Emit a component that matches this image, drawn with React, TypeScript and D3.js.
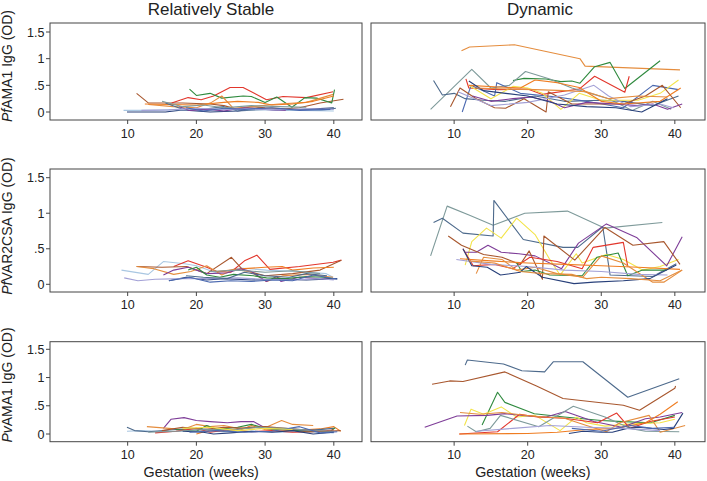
import React from "react";
import * as d3 from "d3";

type Pt = [number, number];

// ---------- palette ----------
const palette: Record<string, string> = {
  orange: "#e58d3e",
  darkOrange: "#ef7d22",
  red: "#e2362c",
  green: "#2f8a3e",
  slate: "#4d6a8c",
  navy: "#28407a",
  blue: "#4b69b0",
  tealgray: "#7e9a9a",
  brown: "#a8572e",
  purple: "#7e3d98",
  yellow: "#f3e44a",
  lavender: "#a3a1d6",
  lightblue: "#a9c7e2",
};

// ---------- categories / ticks ----------
const columnTitles = ["Relatively Stable", "Dynamic"];
const rowAntigens = [
  { italic: "Pf", rest: "AMA1 IgG (OD)" },
  { italic: "Pf", rest: "VAR2CSA IgG (OD)" },
  { italic: "Pv", rest: "AMA1 IgG (OD)" },
];
const xTicks = [10, 20, 30, 40];
const yTicks = [0, 0.5, 1, 1.5];
const yTickLabels = ["0", ".5", "1", "1.5"];
const xAxisTitle = "Gestation (weeks)";

// ---------- PfAMA1, relatively stable ----------
const pfAma1Stable: Pt[][] = [
  [[11.3,0.35],[13,0.17],[16.3,0.17],[18,0.17],[20,0.16],[22,0.15],[24,0.12],[26,0.05],[28,0.1],[30,0.08],[33,0.06],[35,0.08],[38,0.17],[41.4,0.24]],
  [[16.4,0.17],[18.8,0.27],[20.7,0.23],[22.5,0.3],[24.9,0.46],[26.8,0.46],[30.2,0.23],[32.6,0.29],[36,0.27],[39.9,0.38]],
  [[19,0.43],[20,0.31],[22,0.35],[23.7,0.26],[26.8,0.3],[28,0.29],[30,0.18],[31.7,0.28],[33.9,0.09],[35.8,0.27],[37.5,0.26],[39.7,0.17],[40.1,0.42]],
  [[13,0.14],[16.6,0.1],[20,0.08],[22.2,0.18],[23.7,0.3],[25.4,0.07],[28,0.1],[32,0.15],[36,0.18],[39.9,0.33]],
  [[12.5,0.15],[16,0.14],[20,0.13],[24,0.18],[26,0.2],[29,0.18],[31,0.13],[34,0.15],[37,0.2],[40,0.3]],
  [[15.5,0.17],[18,0.05],[21,0.05],[24,0.1],[26,0.02],[30,0.05],[34,0.05],[38,0.03],[40.3,0.07]],
  [[9.9,0.0],[15.5,0.0],[18,0.04],[20,0.02],[22,0.0],[26,0.02],[29,0.07],[32,0.03],[36,0.05],[40,0.08]],
  [[9.4,0.03],[14,0.03],[18,0.05],[22,0.03],[26,0.05],[30,0.04],[35,0.03],[40,0.02]],
  [[17.5,0.1],[19,0.03],[22,0.05],[24,0.02],[27,0.08],[30,0.05],[33,0.03]],
  [[12,0.03],[16,0.04],[20,0.07],[24,0.05],[28,0.06],[32,0.04],[36,0.06],[40,0.05]],
  [[18.5,0.08],[21,0.02],[24,0.07],[27,0.05],[31,0.08],[35,0.03],[39.5,0.05]],
  [[15,0.2],[18,0.1],[21,0.13],[24,0.08],[28,0.12],[32,0.1],[36,0.09]],
];
const pfAma1StableColors = ["brown","red","green","orange","darkOrange","slate","navy","lightblue","purple","lavender","blue","tealgray"];

// ---------- PfAMA1, dynamic ----------
const pfAma1Dynamic: Pt[][] = [
  [[11,1.15],[12.1,1.22],[18.2,1.26],[27.1,1.0],[27.8,0.86],[40.7,0.79]],
  [[18,0.59],[19.5,0.63],[22.5,0.62],[24.5,0.57],[26,0.58],[27.1,0.54],[29.1,0.85],[31.2,0.93],[33.2,0.44],[38,0.96]],
  [[11.6,0.62],[12,0.45],[16,0.42],[20,0.43],[22,0.33],[27,0.43],[29.1,0.67],[33.2,0.37],[33.8,0.67]],
  [[6.8,0.05],[12.4,0.8],[15,0.45],[17.5,0.5],[19.7,0.76],[23,0.62],[26,0.45],[29,0.33],[31,0.25],[34.2,0.03],[37,0.2],[39.5,0.05]],
  [[7.2,0.59],[8.4,0.32],[10,0.35],[11.5,0.25],[14,0.22],[17,0.2],[21,0.3],[25,0.2],[30,0.22],[33,0.2],[37,0.12],[40.5,0.3]],
  [[11.1,0.0],[12.3,0.5],[15.5,0.3],[15.8,0.55],[19,0.35],[24,0.28],[28,0.2],[33,0.08],[37,0.5],[40.5,0.42]],
  [[12,0.5],[15,0.25],[18,0.48],[20,0.45],[22,0.35],[24.5,0.05],[27,0.35],[30,0.22],[35,0.22],[38,0.35],[40.5,0.6]],
  [[9.5,0.1],[10.8,0.45],[13,0.25],[15.5,0.08],[17,0.07],[19.5,0.25],[22.5,0.0],[22.8,0.38],[26,0.15],[30,0.15],[33,0.15],[36,0.3],[38.3,0.5],[40.8,0.08]],
  [[12.5,0.3],[15,0.2],[18,0.25],[20.5,0.28],[23,0.2],[25,0.08],[28,0.18],[32,0.15],[35,0.12],[37,0.15],[39,0.05],[41,0.15]],
  [[10.5,0.38],[15,0.12],[20,0.18],[25,0.32],[29,0.5],[31,0.3],[34,0.1],[38,0.15],[39.8,0.08]],
  [[12,0.5],[16,0.47],[19,0.45],[21,0.6],[24,0.55],[27,0.46],[30,0.2],[33,0.15],[38,0.2],[40.8,0.45]],
  [[12,0.58],[14,0.4],[17,0.35],[20,0.3],[24,0.15],[28,0.1],[32,0.08],[35.5,0.0],[39,0.25]],
  [[13,0.45],[17,0.43],[21,0.42],[25,0.4],[28,0.38],[31,0.25],[35,0.3],[39,0.28]],
];
const pfAma1DynamicColors = ["orange","green","red","tealgray","slate","blue","yellow","brown","purple","lavender","darkOrange","navy","orange"];

// ---------- PfVAR2CSA, relatively stable ----------
const pfVarStable: Pt[][] = [
  [[9.1,0.2],[13,0.14],[15.2,0.32],[18.3,0.29],[20,0.26],[23,0.16],[26.3,0.23],[30.2,0.2],[35,0.18],[38.9,0.15],[39.9,0.1]],
  [[16.7,0.25],[18.8,0.33],[21.5,0.24],[23,0.18],[25,0.17],[27,0.33],[28.8,0.41],[30.7,0.21],[35,0.25],[39.9,0.31],[41.1,0.34]],
  [[11.3,0.25],[15,0.24],[18.6,0.25],[21.5,0.15],[25.1,0.38],[26.8,0.2],[30,0.12],[34,0.15],[38,0.2],[41.1,0.34]],
  [[11.3,0.25],[13.8,0.22],[16.7,0.14],[19.2,0.18],[21.5,0.26],[23.7,0.13],[25.4,0.21],[27.8,0.18],[30.2,0.04],[32.6,0.12],[36,0.14],[39.9,0.1]],
  [[23,0.18],[27,0.22],[30,0.24],[32.5,0.25],[34,0.2],[37,0.23],[40,0.24]],
  [[15.2,0.13],[16.7,0.2],[18.8,0.24],[21.5,0.15],[24.4,0.16],[26.5,0.22],[28,0.18],[30.2,0.04],[31.7,0.11],[32.3,0.04],[35,0.1],[38,0.08],[40,0.08]],
  [[18.8,0.2],[20,0.24],[21.5,0.13],[23.4,0.1],[25.4,0.14],[28.3,0.12],[30.2,0.09],[33,0.08],[36,0.11],[38.5,0.1],[39.9,0.08]],
  [[16,0.05],[18.5,0.1],[21.5,0.06],[24,0.08],[28,0.06],[32,0.07],[36,0.06],[40.5,0.08]],
  [[9.5,0.09],[11.5,0.05],[14,0.07],[18,0.08],[22,0.08],[26,0.09],[30,0.07],[34,0.06],[38,0.08],[40,0.06]],
  [[16,0.05],[19,0.1],[22,0.03],[25,0.05],[28,0.04],[31,0.06],[34,0.05],[37,0.13],[40.5,0.07]],
  [[18.5,0.12],[21,0.1],[24.5,0.08],[27,0.17],[30,0.12],[33.5,0.1],[36,0.15],[39,0.12]],
  [[22,0.18],[26,0.2],[30,0.17],[34,0.19],[38,0.15]],
];
const pfVarStableColors = ["lightblue","red","brown","orange","darkOrange","purple","green","navy","lavender","blue","slate","tealgray"];

// ---------- PfVAR2CSA, dynamic ----------
const pfVarDynamic: Pt[][] = [
  [[6.8,0.4],[9.05,1.1],[12.1,0.97],[15.3,0.83],[19.6,1.0],[25.4,1.03],[30.5,0.79],[38.3,0.87]],
  [[7.2,0.87],[8.4,0.93],[11.2,0.72],[15.3,0.68],[15.4,1.18],[19.4,0.63],[24.8,0.52],[26.8,0.52],[30.2,0.81],[31.2,0.13],[37,0.11],[40.2,0.29]],
  [[11.5,0.27],[12.4,0.6],[14.4,0.79],[16.4,0.65],[18.5,0.93],[21,0.7],[23,0.35],[24.4,0.13],[26.6,0.43],[27.4,0.3],[30.7,0.42],[33,0.35],[35.6,0.2],[38,0.25],[40.5,0.35]],
  [[11.5,0.45],[13,0.45],[14.6,0.55],[16.4,0.45],[18.8,0.43],[21,0.4],[24.6,0.22],[26.9,0.58],[30.7,0.85],[34.8,0.66],[38.9,0.26],[41,0.67]],
  [[9.2,0.68],[11,0.55],[14,0.42],[16.5,0.38],[19,0.28],[20.2,0.47],[22,0.07],[22.2,0.68],[26.4,0.34],[30.5,0.8],[34.3,0.55],[38.5,0.6],[40.7,0.28]],
  [[11.2,0.5],[12.6,0.26],[15.5,0.28],[18,0.22],[20.3,0.38],[24,0.32],[27.4,0.22],[28.9,0.52],[33,0.59],[33.6,0.25]],
  [[18.5,0.3],[19.2,0.18],[21,0.2],[23,0.13],[27.4,0.12],[29.4,0.38],[32.3,0.44],[33.6,0.12],[35.6,0.2],[38.9,0.2]],
  [[10.8,0.36],[15,0.33],[20,0.3],[25,0.28],[30,0.26],[35,0.24],[40.7,0.21]],
  [[13,0.15],[14,0.38],[16.5,0.35],[18.5,0.2],[21,0.24],[24,0.15],[27.5,0.1],[30,0.4],[33,0.3],[37,0.03],[38.5,0.03],[41,0.2]],
  [[10.3,0.35],[15,0.28],[20,0.25],[25,0.2],[30,0.18],[35,0.14],[39,0.13]],
  [[11.2,0.5],[12.4,0.26],[14.5,0.24],[16.3,0.13],[19,0.17],[19.8,0.25],[22,0.1],[26.3,0.01],[29,0.03],[33,0.05],[36.6,0.08],[40.2,0.27]],
  [[12,0.33],[15.5,0.3],[19,0.18],[22,0.15],[26,0.14],[28,0.08],[30,0.1],[34,0.08],[38,0.05],[41,0.2]],
];
const pfVarDynamicColors = ["tealgray","slate","yellow","purple","brown","red","green","darkOrange","orange","lavender","navy","orange"];

// ---------- PvAMA1, relatively stable ----------
const pvAma1Stable: Pt[][] = [
  [[15.2,0.1],[16.3,0.26],[18.2,0.29],[20,0.24],[22,0.22],[24.5,0.2],[26.5,0.22],[28.3,0.22],[29.7,0.13],[33,0.08],[36,0.05],[40,0.04]],
  [[12.8,0.13],[16,0.1],[18,0.08],[20,0.17],[22,0.13],[24,0.15],[26,0.1],[28,0.12],[30,0.11],[32.4,0.24],[34,0.17],[37,0.15]],
  [[20,0.0],[22,0.07],[24,0.1],[26,0.05],[28,0.15],[30,0.08],[34,0.06],[38,0.09],[40,0.13],[41,0.05]],
  [[9.9,0.05],[12,0.06],[16,0.04],[20,0.06],[24,0.04],[28,0.05],[32,0.03],[36,0.04],[40,0.02]],
  [[9.9,0.12],[11,0.06],[13,0.04],[17,0.08],[20,0.1],[24,0.05],[28,0.12],[32,0.08],[36,0.06],[40,0.1]],
  [[17,0.08],[20,0.05],[21.5,0.15],[23,0.08],[26,0.12],[28,0.17],[30,0.1],[33,0.08],[36,0.04],[39.5,0.05],[40.2,0.11]],
  [[14,0.02],[17,0.05],[20,0.1],[22,0.03],[25,0.08],[28,0.04],[31,0.06],[34,0.03],[37,0.04],[40,0.07]],
  [[18,0.05],[21,0.03],[22.5,0.0],[25,0.02],[28,0.05],[31,0.03],[34,0.06],[37,0.0],[40,0.03]],
  [[15,0.06],[18,0.12],[21,0.08],[24,0.12],[27,0.1],[30,0.13],[33,0.1],[36,0.07],[39,0.05],[41,0.06]],
  [[13,0.03],[17,0.05],[21,0.08],[25,0.07],[29,0.12],[33,0.1],[37,0.06],[40,0.05]],
  [[19,0.03],[23,0.06],[27,0.03],[31,0.05],[35,0.13],[38,0.02],[40.5,0.04]],
  [[18,0.1],[22,0.12],[26,0.06],[30,0.1],[34,0.08]],
];
const pvAma1StableColors = ["purple","orange","darkOrange","lightblue","slate","green","red","navy","brown","tealgray","blue","yellow"];

// ---------- PvAMA1, dynamic ----------
const pvAma1Dynamic: Pt[][] = [
  [[11.5,1.22],[11.8,1.31],[16.7,1.24],[19.2,1.12],[22.3,1.1],[23.5,1.28],[27.5,1.28],[33.6,0.65],[40.6,0.98]],
  [[7.0,0.88],[9.4,0.94],[11.2,0.93],[16.9,1.1],[21.2,0.85],[24.8,0.63],[33,0.51],[35.2,0.42],[40,0.81],[40.1,0.85]],
  [[13.8,0.16],[15.9,0.74],[16.9,0.56],[20.9,0.36],[25,0.3],[30,0.24],[33,0.22],[36.7,0.2],[40,0.33]],
  [[11.4,0.15],[12.3,0.44],[14,0.35],[16.4,0.48],[18.5,0.3],[21,0.33],[24.4,0.06],[26.6,0.3],[28,0.2],[30.5,0.14],[34,0.18],[38,0.2],[40,0.26]],
  [[6.0,0.12],[10.4,0.32],[14.5,0.33],[16.9,0.36],[20,0.32],[22.5,0.3],[25.1,0.4],[29,0.22],[32.8,0.12],[36,0.27],[38,0.3],[41,0.38]],
  [[10.7,0.0],[15.9,0.04],[18.9,0.35],[21.3,0.3],[25,0.28],[29.5,0.2],[32.1,0.37],[33.9,0.1],[36.6,0.22],[40,0.3]],
  [[11.8,0.14],[13,0.04],[14.9,0.1],[16.3,0.33],[21.5,0.13],[26.2,0.49],[30.5,0.3],[33.9,0.1],[36,0.05],[40.6,0.04]],
  [[10.8,0.38],[13.5,0.35],[16.5,0.38],[20.5,0.32],[25,0.28],[28,0.15],[30.7,0.04],[32.5,0.2],[36.5,0.33],[38,0.03],[41.4,0.15]],
  [[10.7,0.0],[20,0.01],[24,0.03],[28,0.08],[32,0.1],[36,0.2],[38,0.35],[40.4,0.57]],
  [[25.6,0.01],[27.5,0.05],[30,0.03],[31.5,0.03],[33.5,0.1],[35,0.12],[38.5,0.08],[39.8,0.1],[41.1,0.37]],
  [[13,0.05],[18,0.1],[23,0.15],[28,0.12],[33,0.1],[38,0.06]],
  [[26,0.1],[30,0.05],[34,0.15],[37,0.1],[40,0.12]],
];
const pvAma1DynamicColors = ["slate","brown","green","yellow","purple","red","tealgray","orange","darkOrange","navy","lavender","blue"];

const rowsData = [
  [{ series: pfAma1Stable, colors: pfAma1StableColors }, { series: pfAma1Dynamic, colors: pfAma1DynamicColors }],
  [{ series: pfVarStable, colors: pfVarStableColors }, { series: pfVarDynamic, colors: pfVarDynamicColors }],
  [{ series: pvAma1Stable, colors: pvAma1StableColors }, { series: pvAma1Dynamic, colors: pvAma1DynamicColors }],
];

// ---------- layout ----------
const W = 707;
const H = 481;
const xDomain: [number, number] = [-1.3, 44.1];
const cols = [
  { left: 50, right: 362 },
  { left: 371, right: 705 },
];
const rows = [
  { top: 23, bottom: 120, y0: 112, y15: 32, xLabelY: 137.5, labelMid: 66 },
  { top: 169, bottom: 292, y0: 284.3, y15: 177.7, xLabelY: 308.5, labelMid: 226 },
  { top: 341.7, bottom: 441.7, y0: 434, y15: 349.3, xLabelY: 458.5, labelMid: 385 },
];
const FONT = "'Liberation Sans', Arial, Helvetica, sans-serif";
const FRAME = "#454545";
const TEXT = "#222";

export default function App() {
  return (
    <svg
      width={W}
      height={H}
      style={{ position: "absolute", left: 0, top: 0, background: "#fff" }}
      fontFamily={FONT}
    >
      <rect x={0} y={0} width={W} height={H} fill="#fff" />
      {columnTitles.map((t, ci) => (
        <text
          key={t}
          x={(cols[ci].left + cols[ci].right) / 2 + (ci === 0 ? 5 : 2)}
          y={15}
          textAnchor="middle"
          fontSize={17}
          fill={TEXT}
        >
          {t}
        </text>
      ))}
      {rows.map((r, ri) => {
        const yScale = d3.scaleLinear().domain([0, 1.5]).range([r.y0, r.y15]);
        return (
          <g key={ri}>
            <text
              transform={`translate(12,${r.labelMid}) rotate(-90)`}
              textAnchor="middle"
              fontSize={14}
              fill={TEXT}
            >
              <tspan fontStyle="italic">{rowAntigens[ri].italic}</tspan>
              <tspan>{rowAntigens[ri].rest}</tspan>
            </text>
            {cols.map((c, ci) => {
              const xScale = d3.scaleLinear().domain(xDomain).range([c.left, c.right]);
              const line = d3
                .line<Pt>()
                .x((d) => xScale(d[0]))
                .y((d) => yScale(d[1]));
              const panel = rowsData[ri][ci];
              return (
                <g key={ci}>
                  <g>
                    {panel.series.map((s, si) => (
                      <path
                        key={si}
                        d={line(s) || ""}
                        fill="none"
                        stroke={palette[panel.colors[si]]}
                        strokeWidth={1.1}
                        strokeLinejoin="round"
                      />
                    ))}
                  </g>
                  <rect
                    x={c.left}
                    y={r.top}
                    width={c.right - c.left}
                    height={r.bottom - r.top}
                    fill="none"
                    stroke={FRAME}
                    strokeWidth={1}
                  />
                  {xTicks.map((t) => (
                    <g key={t}>
                      <line
                        x1={xScale(t)}
                        x2={xScale(t)}
                        y1={r.bottom}
                        y2={r.bottom + 4}
                        stroke={FRAME}
                        strokeWidth={1}
                      />
                      <text
                        x={xScale(t)}
                        y={r.xLabelY + 0.5}
                        textAnchor="middle"
                        fontSize={12.5}
                        fill={TEXT}
                      >
                        {t}
                      </text>
                    </g>
                  ))}
                  {ci === 0 &&
                    yTicks.map((t, ti) => (
                      <g key={t}>
                        <line
                          x1={c.left - 4}
                          x2={c.left}
                          y1={yScale(t)}
                          y2={yScale(t)}
                          stroke={FRAME}
                          strokeWidth={1}
                        />
                        <text
                          x={c.left - 5.5}
                          y={yScale(t)}
                          dy="0.36em"
                          textAnchor="end"
                          fontSize={12.5}
                          fill={TEXT}
                        >
                          {yTickLabels[ti]}
                        </text>
                      </g>
                    ))}
                  {ri === rows.length - 1 && (
                    <text
                      x={xScale(20.7)}
                      y={477}
                      textAnchor="middle"
                      fontSize={14.3}
                      fill={TEXT}
                    >
                      {xAxisTitle}
                    </text>
                  )}
                </g>
              );
            })}
          </g>
        );
      })}
    </svg>
  );
}
